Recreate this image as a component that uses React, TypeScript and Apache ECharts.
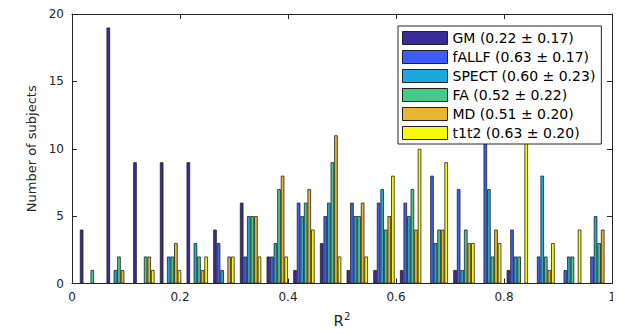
import React, { useEffect, useRef } from "react";
import * as echarts from "echarts";

// Bin centres of the R^2 histogram (20 bins)
const binCenters = [
  0.0343, 0.0837, 0.1331, 0.1825, 0.2319, 0.2813, 0.3307, 0.3801, 0.4295, 0.4789,
  0.5283, 0.5777, 0.6271, 0.6765, 0.7259, 0.7753, 0.8247, 0.8741, 0.9235, 0.9729,
];

const seriesNames = [
  "GM (0.22 ± 0.17)",
  "fALLF (0.63 ± 0.17)",
  "SPECT (0.60 ± 0.23)",
  "FA (0.52 ± 0.22)",
  "MD (0.51 ± 0.20)",
  "t1t2 (0.63 ± 0.20)",
];

const gm = [4, 19, 9, 9, 9, 4, 6, 2, 1, 3, 1, 1, 1, 0, 1, 0, 1, 0, 0, 0];
const fallf = [0, 0, 0, 0, 0, 3, 2, 2, 6, 5, 6, 6, 6, 8, 7, 11, 4, 2, 1, 2];
const spect = [0, 1, 0, 2, 3, 1, 5, 3, 5, 6, 5, 7, 5, 3, 1, 7, 2, 8, 2, 5];
const fa = [1, 2, 2, 2, 2, 0, 5, 7, 6, 9, 5, 4, 7, 4, 4, 2, 2, 2, 2, 3];
const md = [0, 1, 2, 3, 1, 2, 5, 8, 7, 11, 6, 5, 4, 4, 3, 4, 0, 1, 0, 4];
const t1t2 = [0, 0, 1, 1, 2, 2, 2, 2, 4, 2, 2, 8, 10, 9, 3, 3, 13, 3, 4, 0];

const seriesValues = [gm, fallf, spect, fa, md, t1t2];
const colors = ["#3b2a9b", "#3d5df4", "#1ba8de", "#48c98c", "#e8b530", "#f8fa0d"];

const xTicks = { min: 0, max: 1, interval: 0.2 };
const yTicks = { min: 0, max: 20, interval: 5 };

const FONT = "DejaVu Sans";
const AXIS_COLOR = "#262626";

export default function App() {
  const ref = useRef<HTMLDivElement>(null);
  useEffect(() => {
    if (!ref.current) return;
    const chart = echarts.init(ref.current, undefined, { renderer: "svg" });
    const axisCommon = {
      axisLine: { show: true, onZero: false, lineStyle: { color: AXIS_COLOR, width: 1 } },
      axisTick: { show: true, inside: true, length: 5, lineStyle: { color: AXIS_COLOR, width: 1 } },
      splitLine: { show: false },
    };
    chart.setOption({
      animation: false,
      backgroundColor: "#ffffff",
      grid: { left: 72, right: 9, top: 14, bottom: 50, containLabel: false },
      legend: {
        orient: "vertical",
        left: 398,
        top: 26,
        padding: [5, 6, 4, 4],
        itemWidth: 45,
        itemHeight: 13,
        itemGap: 5,
        icon: "rect",
        backgroundColor: "#ffffff",
        borderColor: AXIS_COLOR,
        borderWidth: 1,
        borderRadius: 0,
        itemStyle: { borderColor: "#222222", borderWidth: 1 },
        textStyle: { fontFamily: FONT, fontSize: 14, color: "#000000", padding: [0, 0, 0, 0] },
        data: seriesNames,
      },
      xAxis: [
        {
          type: "value",
          position: "bottom",
          ...xTicks,
          ...axisCommon,
          name: "R{sup|2}",
          nameLocation: "middle",
          nameGap: 28,
          nameTextStyle: {
            fontFamily: FONT,
            fontSize: 15,
            color: AXIS_COLOR,
            rich: { sup: { fontFamily: FONT, fontSize: 10, color: AXIS_COLOR, verticalAlign: "top", padding: [0, 0, 10, 0] } },
          },
          axisLabel: { fontFamily: FONT, fontSize: 12, color: AXIS_COLOR, margin: 7 },
        },
        {
          type: "value",
          position: "top",
          ...xTicks,
          ...axisCommon,
          axisLabel: { show: false },
        },
      ],
      yAxis: [
        {
          type: "value",
          position: "left",
          ...yTicks,
          ...axisCommon,
          name: "Number of subjects",
          nameLocation: "middle",
          nameGap: 29,
          nameTextStyle: { fontFamily: FONT, fontSize: 13, color: AXIS_COLOR },
          axisLabel: { fontFamily: FONT, fontSize: 12, color: AXIS_COLOR, margin: 8 },
        },
        {
          type: "value",
          position: "right",
          ...yTicks,
          ...axisCommon,
          axisLabel: { show: false },
        },
      ],
      series: seriesValues.map((vals, i) => ({
        name: seriesNames[i],
        type: "bar",
        xAxisIndex: 0,
        yAxisIndex: 0,
        barGap: "0%",
        barCategoryGap: "20%",
        itemStyle: { color: colors[i], borderColor: "#222222", borderWidth: 0.8 },
        data: binCenters.map((c, k) => [c, vals[k]]),
      })),
    });
    return () => chart.dispose();
  }, []);
  return <div ref={ref} style={{ width: 621, height: 334, margin: -8 }} />;
}
